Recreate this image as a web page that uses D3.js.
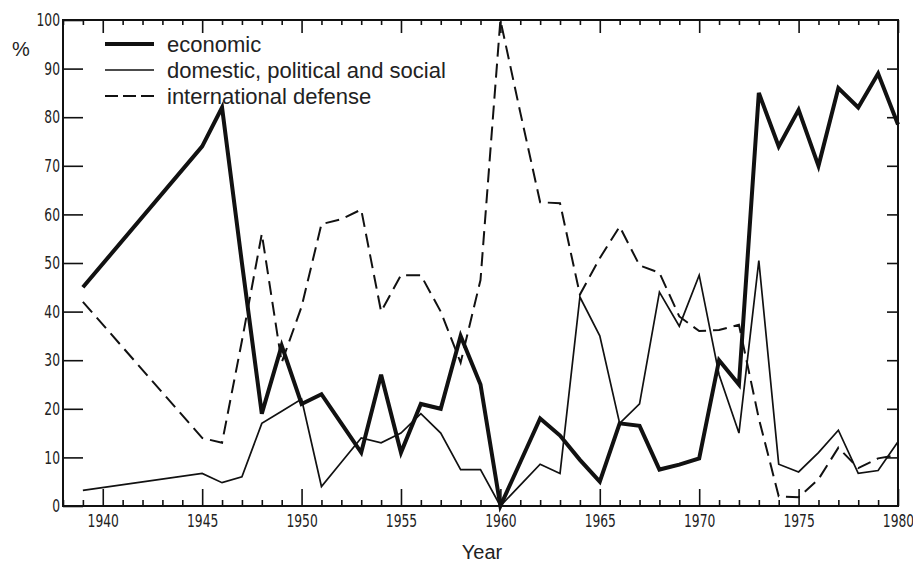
<!DOCTYPE html>
<html>
<head>
<meta charset="utf-8">
<script src="https://cdn.jsdelivr.net/npm/d3@7"></script>
<style>
  body { margin: 0; background: #fff; }
  svg { display: block; }
  .tick text { font-family: 'DejaVu Sans Condensed', 'DejaVu Sans', sans-serif; font-size: 18px; fill: #222; }
</style>
</head>
<body>
<div id="grafico"></div>
<script>
const anios = [1939, 1945, 1946, 1947, 1948, 1949, 1950, 1951, 1952, 1953, 1954, 1955,
  1956, 1957, 1958, 1959, 1960, 1961, 1962, 1963, 1964, 1965, 1966, 1967, 1968,
  1969, 1970, 1971, 1972, 1973, 1974, 1975, 1976, 1977, 1978, 1979, 1980];

const economico = [45, 74, 82, 50, 19, 33, 21, 23, 17, 11, 27, 11,
  21, 20, 35, 25, 0, 9, 18, 14.5, 9.5, 5, 17, 16.5, 7.5,
  8.5, 9.8, 30, 25, 85, 74, 81.5, 70, 86, 82, 89, 78.5];

const domestico = [3.2, 6.7, 4.8, 6, 17, 19.5, 22, 4, 9, 14, 13, 15,
  19, 15, 7.5, 7.5, 0, 4.3, 8.6, 6.7, 43, 35, 17, 21, 44,
  37, 47.5, 27, 15, 50.5, 8.6, 7, 11, 15.6, 6.7, 7.3, 13.2];

const internacional = [42, 14, 13, 34, 56, 29.5, 41, 58, 59, 61, 40, 47.5,
  47.5, 40, 29.5, 46.5, 100, 81, 62.5, 62.3, 43.5, 51, 57.5, 49.5, 48,
  39, 36, 36.2, 37.3, 18, 2, 1.8, 5.5, 12, 7.8, 9.8, 10.5];

const ticksAnio = [1940, 1945, 1950, 1955, 1960, 1965, 1970, 1975, 1980];
const ticksPct = [0, 10, 20, 30, 40, 50, 60, 70, 80, 90, 100];

const series = [
  { nombre: 'economic', valores: economico, ancho: 4, guiones: null },
  { nombre: 'domestic, political and social', valores: domestico, ancho: 1.7, guiones: null },
  { nombre: 'international defense', valores: internacional, ancho: 2, guiones: '14,7' }
];

const width = 913;
const height = 564;
const m = { left: 63, right: 898, top: 20, bottom: 506 };

const svg = d3.select('#grafico')
  .append('svg')
  .attr('width', width)
  .attr('height', height);

const x = d3.scaleLinear().domain([1938, 1980]).range([m.left, m.right]);
const y = d3.scaleLinear().domain([0, 100]).range([m.bottom, m.top]);

const todosAnios = d3.range(1938, 1981);
const menores = todosAnios.filter(a => a % 5 !== 0);

// ejes: ticks hacia dentro, numeros estrechos como en el original
function limpiar(g) {
  g.select('.domain').remove();
  g.selectAll('.tick line').attr('stroke', '#111').attr('stroke-width', 1.6);
  g.selectAll('.tick text').attr('transform', 'scale(0.76,1)');
}

svg.append('g')
  .attr('transform', `translate(0,${m.bottom})`)
  .call(d3.axisBottom(x).tickValues(ticksAnio).tickFormat(d3.format('d')).tickSize(-17).tickPadding(8))
  .call(limpiar);

svg.append('g')
  .attr('transform', `translate(0,${m.bottom})`)
  .call(d3.axisBottom(x).tickValues(menores).tickFormat('').tickSize(-6))
  .call(limpiar);

svg.append('g')
  .attr('transform', `translate(0,${m.top})`)
  .call(d3.axisTop(x).tickValues(ticksAnio).tickFormat('').tickSize(-13))
  .call(limpiar);

svg.append('g')
  .attr('transform', `translate(0,${m.top})`)
  .call(d3.axisTop(x).tickValues(menores).tickFormat('').tickSize(-5))
  .call(limpiar);

svg.append('g')
  .attr('transform', `translate(${m.left},0)`)
  .call(d3.axisLeft(y).tickValues(ticksPct).tickSize(-20).tickPadding(4))
  .call(limpiar);

svg.append('g')
  .attr('transform', `translate(${m.right},0)`)
  .call(d3.axisRight(y).tickValues(ticksPct.slice(1, -1)).tickFormat('').tickSize(-11))
  .call(limpiar);

svg.append('rect')
  .attr('x', m.left)
  .attr('y', m.top)
  .attr('width', m.right - m.left)
  .attr('height', m.bottom - m.top)
  .attr('fill', 'none')
  .attr('stroke', '#111')
  .attr('stroke-width', 2);

// lineas
const linea = d3.line()
  .x((d, i) => x(anios[i]))
  .y(d => y(d));

series.forEach(s => {
  svg.append('path')
    .datum(s.valores)
    .attr('d', linea)
    .attr('fill', 'none')
    .attr('stroke', '#111')
    .attr('stroke-width', s.ancho)
    .attr('stroke-linejoin', 'miter')
    .attr('stroke-dasharray', s.guiones);
});

// leyenda
const leyenda = svg.append('g');
series.forEach((s, i) => {
  const yy = 44 + i * 26;
  leyenda.append('line')
    .attr('x1', 105).attr('x2', 154)
    .attr('y1', yy).attr('y2', yy)
    .attr('stroke', '#111')
    .attr('stroke-width', s.ancho)
    .attr('stroke-dasharray', s.guiones ? '13,5' : null);
  leyenda.append('text')
    .attr('x', 167)
    .attr('y', yy)
    .attr('dy', '0.35em')
    .style('font-family', "'Liberation Sans', Arial, sans-serif")
    .style('font-size', '22px')
    .style('fill', '#222')
    .text(s.nombre);
});

svg.append('text')
  .attr('x', 21)
  .attr('y', 49)
  .attr('dy', '0.35em')
  .attr('text-anchor', 'middle')
  .style('font-family', "'Liberation Sans', Arial, sans-serif")
  .style('font-size', '20px')
  .style('fill', '#222')
  .text('%');

svg.append('text')
  .attr('x', 482)
  .attr('y', 559)
  .attr('text-anchor', 'middle')
  .style('font-family', "'Liberation Sans', Arial, sans-serif")
  .style('font-size', '20px')
  .style('fill', '#222')
  .text('Year');
</script>
</body>
</html>
